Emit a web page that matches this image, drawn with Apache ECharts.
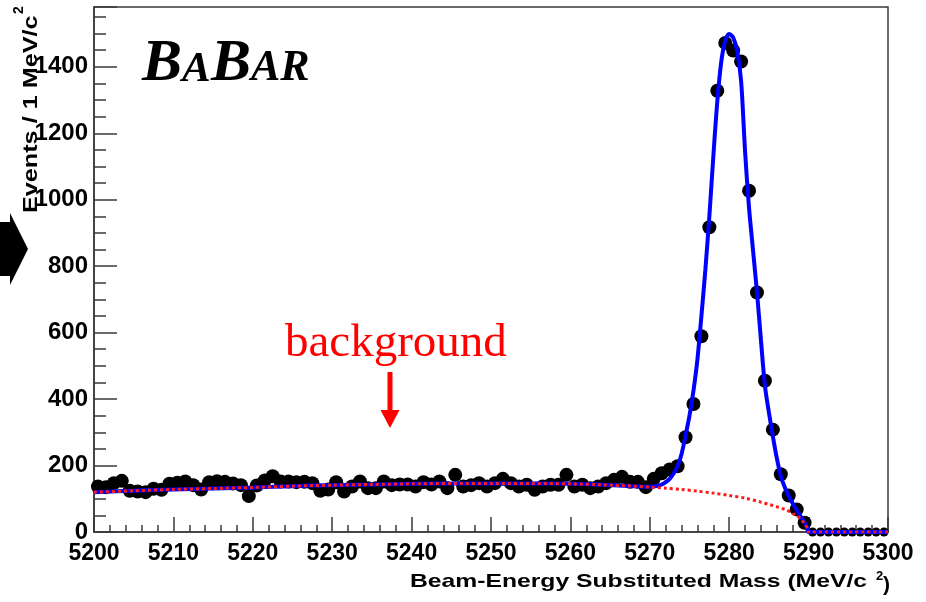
<!DOCTYPE html>
<html><head><meta charset="utf-8">
<script src="https://cdn.jsdelivr.net/npm/echarts@6/dist/echarts.min.js"></script>
<style>html,body{margin:0;padding:0;background:#fff}#c{width:926px;height:602px}</style>
</head><body><div id="c"></div>
<script>
// Histogram bin centres (MeV/c^2)
const binCenters = [
 5200.5,5201.5,5202.5,5203.5,5204.5,5205.5,5206.5,5207.5,5208.5,5209.5,
 5210.5,5211.5,5212.5,5213.5,5214.5,5215.5,5216.5,5217.5,5218.5,5219.5,
 5220.5,5221.5,5222.5,5223.5,5224.5,5225.5,5226.5,5227.5,5228.5,5229.5,
 5230.5,5231.5,5232.5,5233.5,5234.5,5235.5,5236.5,5237.5,5238.5,5239.5,
 5240.5,5241.5,5242.5,5243.5,5244.5,5245.5,5246.5,5247.5,5248.5,5249.5,
 5250.5,5251.5,5252.5,5253.5,5254.5,5255.5,5256.5,5257.5,5258.5,5259.5,
 5260.5,5261.5,5262.5,5263.5,5264.5,5265.5,5266.5,5267.5,5268.5,5269.5,
 5270.5,5271.5,5272.5,5273.5,5274.5,5275.5,5276.5,5277.5,5278.5,5279.5,
 5280.5,5281.5,5282.5,5283.5,5284.5,5285.5,5286.5,5287.5,5288.5,5289.5,
 5290.5,5291.5,5292.5,5293.5,5294.5,5295.5,5296.5,5297.5,5298.5,5299.5];
// Events per 1 MeV/c^2 bin
const eventCounts = [
 137,135,147,154,124,122,120,130,127,145,
 148,152,141,128,150,153,151,146,141,108,
 140,155,168,152,152,150,151,147,124,128,
 150,122,137,152,132,132,152,141,143,143,
 137,150,143,152,132,172,137,141,147,137,
 147,160,147,137,142,127,137,142,142,172,
 137,142,132,137,147,157,166,151,151,135,
 160,177,188,198,285,385,589,917,1328,1472,
 1449,1416,1027,721,455,308,174,110,68,28,
 0,0,0,0,0,0,0,0,0,0];
// Total fit curve (signal + background)
const fitMass = [5200,5205,5210,5215,5220,5225,5230,5235,5240,5245,5250,5255,5260,5264,5268,5270,
 5271,5271.5,5272,5272.5,5273,5273.5,5274,5274.5,5275,5275.5,5276,5276.5,5277,5277.5,5278,5278.5,5279,5279.5,
 5280,5280.5,5281,5281.5,5282,5282.5,5283,5283.5,5284,5284.5,5285,5285.5,5286,5286.5,5287,5287.5,5288,5288.5,
 5289,5289.5,5289.8,5290,5300];
const fitTotal = [120,124,128,131,134,138,141,143,145,146,146,146,145,142,138,136,
 139,143,150,160,176,198,235,290,350,425,520,650,790,950,1130,1295,1415,1478,
 1499,1488,1448,1357,1145,975,848,721,577,440,360,288,222,168,135,108,86,66,
 47,28,14,0,0];
// Background (ARGUS) curve
const bkgMass = [5200,5205,5210,5215,5220,5225,5230,5235,5240,5245,5250,5255,5260,5264,5268,5270,
 5272,5274,5276,5278,5280,5282,5284,5285,5286,5287,5288,5288.5,5289,5289.5,5289.8,5290,5300];
const bkgValues = [120,124,128,131,134,138,141,143,145,146,146,146,145,142,138,135,
 132,128,123,117,110,102,90,83,76,68,57,49,39,25,13,0,0];
const yTickLabels = [0,200,400,600,800,1000,1200,1400];

const chart = echarts.init(document.getElementById('c'), null, {renderer:'canvas'});
const sans = 'Liberation Sans, Arial, Helvetica, sans-serif';
const serif = 'Liberation Serif, Times New Roman, serif';

const points = binCenters.map((x,i)=>[x, eventCounts[i]]);
const total = fitMass.map((x,i)=>[x, fitTotal[i]]);
const bkg = bkgMass.map((x,i)=>[x, bkgValues[i]]);

chart.setOption({
  animation:false,
  backgroundColor:'#ffffff',
  grid:{left:94, right:38, top:7, bottom:70, show:true, borderColor:'#3a3a3a', borderWidth:1.5, backgroundColor:'transparent'},
  xAxis:{type:'value', min:5200, max:5300, interval:10,
    axisLine:{lineStyle:{color:'#3a3a3a', width:1.5}},
    axisTick:{inside:true, length:15, lineStyle:{color:'#3a3a3a', width:1.5}},
    minorTick:{show:true, splitNumber:5, length:7, lineStyle:{color:'#3a3a3a', width:1.5}},
    splitLine:{show:false},
    axisLabel:{margin:10, color:'#000', fontFamily:sans, fontWeight:'bold', fontSize:23,
      formatter:(v)=> String(v)}
  },
  yAxis:{type:'value', min:0, max:1580, interval:200,
    axisLine:{show:true, lineStyle:{color:'#3a3a3a', width:1.5}},
    axisTick:{show:true, inside:true, length:23, lineStyle:{color:'#3a3a3a', width:1.5}},
    minorTick:{show:true, splitNumber:4, length:12, lineStyle:{color:'#3a3a3a', width:1.5}},
    splitLine:{show:false},
    axisLabel:{margin:6, color:'#000', fontFamily:sans, fontWeight:'bold', fontSize:24,
      formatter:(v)=> yTickLabels.indexOf(v) >= 0 ? String(v) : ''}
  },
  series:[
    {type:'scatter', data:points, symbol:'circle',
     symbolSize:(v)=> v[1] === 0 ? 9 : 14,
     itemStyle:{color:'#000', opacity:1}, z:2},
    {type:'line', data:total, showSymbol:false, smooth:0.3,
     lineStyle:{color:'#0000ff', width:4}, z:3},
    {type:'line', data:bkg, showSymbol:false, smooth:0.3,
     lineStyle:{color:'#ff1a1a', width:3, type:[3,3]}, z:4}
  ],
  graphic:[
    // BaBar logo
    {type:'text', x:142, y:94, style:{text:'B', fill:'#000', font:'italic bold 60px '+serif, textVerticalAlign:'bottom', verticalAlign:'bottom'}},
    {type:'text', x:182, y:91, style:{text:'A', fill:'#000', font:'italic bold 43px '+serif, textVerticalAlign:'bottom', verticalAlign:'bottom'}},
    {type:'text', x:211, y:94, style:{text:'B', fill:'#000', font:'italic bold 60px '+serif, textVerticalAlign:'bottom', verticalAlign:'bottom'}},
    {type:'text', x:251, y:91, style:{text:'AR', fill:'#000', font:'italic bold 44px '+serif, textVerticalAlign:'bottom', verticalAlign:'bottom'}},
    // background annotation
    {type:'text', x:285, y:367, style:{text:'background', fill:'#ff0000', font:'47px '+serif, textVerticalAlign:'bottom', verticalAlign:'bottom'}},
    {type:'line', shape:{x1:390, y1:372, x2:390, y2:411}, style:{stroke:'#ff0000', lineWidth:5}},
    {type:'polygon', shape:{points:[[380.5,410],[399.5,410],[390,428]]}, style:{fill:'#ff0000'}},
    // black arrow at left edge
    {type:'polygon', shape:{points:[[0,222],[10,222],[10,213],[28,249],[10,285],[10,276],[0,276]]}, style:{fill:'#000'}},
    // x axis title
    {type:'text', x:867, y:582, scaleX:1.3, style:{text:'Beam-Energy Substituted Mass (MeV/c', fill:'#000', font:'bold 19px '+sans, textAlign:'right', align:'right', textVerticalAlign:'middle', verticalAlign:'middle'}},
    {type:'text', x:876, y:576, style:{text:'2', fill:'#000', font:'bold 13px '+sans, textVerticalAlign:'middle', verticalAlign:'middle'}},
    {type:'text', x:883, y:585, style:{text:')', fill:'#000', font:'bold 21px '+sans, textVerticalAlign:'middle', verticalAlign:'middle'}},
    // y axis title
    {type:'text', x:31, y:213, rotation:Math.PI/2, scaleX:1.2, style:{text:'Events / 1 MeV/c', fill:'#000', font:'bold 21px '+sans, textAlign:'left', align:'left', textVerticalAlign:'middle', verticalAlign:'middle'}},
    {type:'text', x:19, y:14, rotation:Math.PI/2, style:{text:'2', fill:'#000', font:'bold 14px '+sans, textAlign:'left', align:'left', textVerticalAlign:'middle', verticalAlign:'middle'}}
  ]
});
</script></body></html>
